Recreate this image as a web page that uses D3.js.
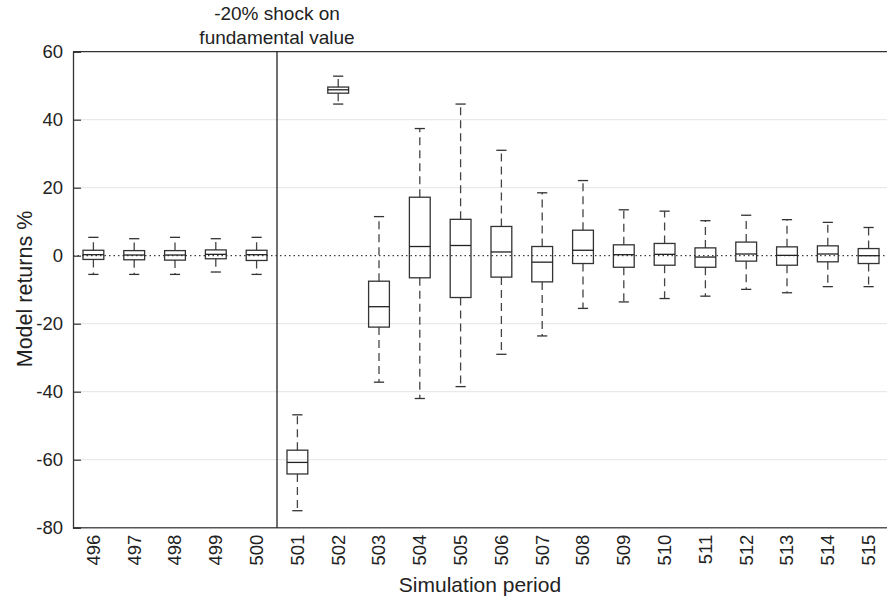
<!DOCTYPE html>
<html>
<head>
<meta charset="utf-8">
<script src="https://cdn.jsdelivr.net/npm/d3@7"></script>
<style>
  body { margin: 0; background: #fff; }
  text { font-family: "Liberation Sans", Arial, sans-serif; fill: #222; }
</style>
</head>
<body>
<div id="app"></div>
<script>
(function (d3) {

  'use strict'

  // simulation periods and box statistics (model returns, %)
  const periods = ['496','497','498','499','500','501','502','503','504','505','506','507','508','509','510','511','512','513','514','515']
  const whiskerLow  = [-5.5,-5.5,-5.5,-4.8,-5.5,-75,44.6,-37.2,-42,-38.5,-29,-23.6,-15.5,-13.6,-12.6,-11.9,-9.9,-10.9,-9.1,-9.1]
  const q1          = [-1.1,-1.2,-1.3,-0.9,-1.4,-64.2,47.8,-21,-6.5,-12.3,-6.3,-7.7,-2.3,-3.4,-2.8,-3.4,-1.6,-2.8,-1.8,-2.3]
  const median      = [0.3,0.2,0.2,0.4,0.3,-60.8,48.8,-15,2.7,3,1.1,-1.9,1.6,0.3,0.4,-0.4,0.5,0.1,0.5,0]
  const q3          = [1.6,1.5,1.5,1.7,1.6,-57.2,49.6,-7.5,17.2,10.7,8.6,2.7,7.5,3.2,3.6,2.3,4.0,2.6,2.9,2.1]
  const whiskerHigh = [5.4,5.0,5.4,5.0,5.4,-46.8,52.8,11.5,37.4,44.6,31,18.5,22.1,13.5,13.1,10.3,11.9,10.6,9.8,8.3]
  const yTicks = [60, 40, 20, 0, -20, -40, -60, -80]
  const gridTicks = [40, 20, -20, -40, -60]
  const shockAfter = '500'

  const w = 887
  const h = 599
  const left = 73, right = 889, top = 51.7, bottom = 527.7

  const boxes = periods.map((p, i) => ({
    p: p, lo: whiskerLow[i], q1: q1[i], med: median[i], q3: q3[i], hi: whiskerHigh[i]
  }))

  const svg = d3.select('#app')
  .append('svg')
  .attr('width', w)
  .attr('height', h)

  const x = d3.scaleBand()
  .domain(periods)
  .range([left, right])
  .padding(0)

  const y = d3.scaleLinear()
  .domain([-80, 60])
  .range([bottom, top])

  const bw = x.bandwidth()
  const boxW = bw * 0.51
  const capW = bw * 0.25

  // grid
  svg.append('g')
  .selectAll('line')
  .data(gridTicks)
  .enter()
  .append('line')
  .attr('x1', left).attr('x2', right)
  .attr('y1', d => y(d)).attr('y2', d => y(d))
  .attr('stroke', '#e4e4e4')
  .attr('stroke-width', 1)

  // zero reference line
  svg.append('line')
  .attr('x1', left).attr('x2', right)
  .attr('y1', y(0)).attr('y2', y(0))
  .attr('stroke', '#111')
  .attr('stroke-width', 1)
  .attr('stroke-dasharray', '1.5,3')

  // frame
  svg.append('line')
  .attr('x1', left).attr('x2', right).attr('y1', top).attr('y2', top)
  .attr('stroke', '#333').attr('stroke-width', 1.3)
  svg.append('line')
  .attr('x1', left).attr('x2', right).attr('y1', bottom).attr('y2', bottom)
  .attr('stroke', '#555').attr('stroke-width', 1.5)

  // y axis
  const yAxis = d3.axisLeft(y)
  .tickValues(yTicks)
  .tickSize(-8)
  .tickPadding(10)
  .tickFormat(d => String(d))

  const gy = svg.append('g')
  .attr('transform', 'translate(' + left + ',0)')
  .call(yAxis)
  gy.select('.domain').attr('stroke', '#333').attr('stroke-width', 1.3)
  gy.selectAll('.tick line').attr('stroke', '#333').attr('stroke-width', 1.2)
  gy.selectAll('.tick text')
  .style('font-size', '18.5px')
  .style('font-family', '"Liberation Sans", Arial, sans-serif')
  .attr('fill', '#222')

  // shock marker
  const xs = x(shockAfter) + bw
  svg.append('line')
  .attr('x1', xs).attr('x2', xs)
  .attr('y1', top).attr('y2', bottom)
  .attr('stroke', '#222')
  .attr('stroke-width', 1.3)

  // boxes
  const g = svg.append('g')
  .selectAll('g')
  .data(boxes)
  .enter()
  .append('g')
  .attr('transform', d => 'translate(' + (x(d.p) + bw / 2) + ',0)')

  g.append('line')
  .attr('x1', 0).attr('x2', 0)
  .attr('y1', d => y(d.q3)).attr('y2', d => y(d.hi))
  .attr('stroke', '#444').attr('stroke-width', 1.3)
  .attr('stroke-dasharray', '8,5')

  g.append('line')
  .attr('x1', 0).attr('x2', 0)
  .attr('y1', d => y(d.q1)).attr('y2', d => y(d.lo))
  .attr('stroke', '#444').attr('stroke-width', 1.3)
  .attr('stroke-dasharray', '8,5')

  g.append('line')
  .attr('x1', -capW / 2).attr('x2', capW / 2)
  .attr('y1', d => y(d.hi)).attr('y2', d => y(d.hi))
  .attr('stroke', '#333').attr('stroke-width', 1.3)

  g.append('line')
  .attr('x1', -capW / 2).attr('x2', capW / 2)
  .attr('y1', d => y(d.lo)).attr('y2', d => y(d.lo))
  .attr('stroke', '#333').attr('stroke-width', 1.3)

  g.append('rect')
  .attr('x', -boxW / 2)
  .attr('width', boxW)
  .attr('y', d => y(d.q3))
  .attr('height', d => y(d.q1) - y(d.q3))
  .attr('fill', 'none')
  .attr('stroke', '#333').attr('stroke-width', 1.3)

  g.append('line')
  .attr('x1', -boxW / 2).attr('x2', boxW / 2)
  .attr('y1', d => y(d.med)).attr('y2', d => y(d.med))
  .attr('stroke', '#222').attr('stroke-width', 1.3)

  // x tick labels (rotated)
  svg.append('g')
  .selectAll('text')
  .data(periods)
  .enter()
  .append('text')
  .attr('transform', d => 'translate(' + (x(d) + bw / 2) + ',' + (bottom + 7) + ') rotate(-90)')
  .attr('text-anchor', 'end')
  .attr('dy', '0.35em')
  .style('font-size', '18.5px')
  .text(d => d)

  // axis titles
  svg.append('text')
  .attr('x', (left + w) / 2)
  .attr('y', 592)
  .attr('text-anchor', 'middle')
  .style('font-size', '21px')
  .text('Simulation period')

  svg.append('text')
  .attr('transform', 'translate(32,' + 289 + ') rotate(-90)')
  .attr('text-anchor', 'middle')
  .style('font-size', '21.5px')
  .text('Model returns %')

  // annotation
  svg.append('text')
  .attr('x', xs)
  .attr('y', 20)
  .attr('text-anchor', 'middle')
  .style('font-size', '19px')
  .text('-20% shock on')
  svg.append('text')
  .attr('x', xs)
  .attr('y', 44)
  .attr('text-anchor', 'middle')
  .style('font-size', '19px')
  .text('fundamental value')

}(d3))
</script>
</body>
</html>
